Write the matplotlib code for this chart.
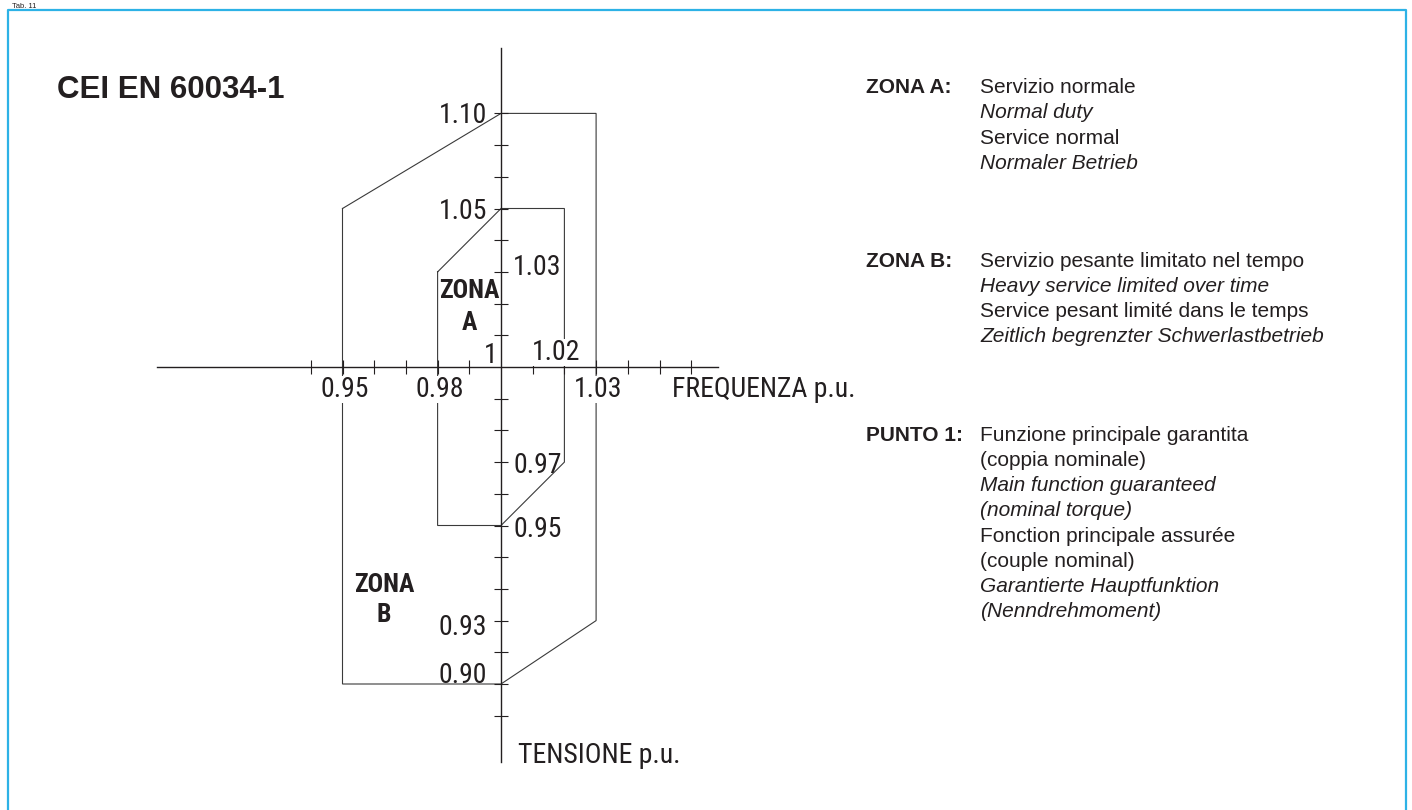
import numpy as np
import matplotlib
matplotlib.use("Agg")
import matplotlib.pyplot as plt
from matplotlib import font_manager as fm

# ---------------- data ----------------
TITLE = "CEI EN 60034-1"
ZONE_A_FREQ = [0.98, 1.00, 1.02, 1.02, 1.00, 0.98, 0.98]
ZONE_A_VOLT = [1.03, 1.05, 1.05, 0.97, 0.95, 0.95, 1.03]
ZONE_B_FREQ = [0.95, 1.00, 1.03, 1.03, 1.00, 0.95, 0.95]
ZONE_B_VOLT = [1.05, 1.10, 1.10, 0.93, 0.90, 0.90, 1.05]

FREQ_TICKS = [0.94, 0.95, 0.96, 0.97, 0.98, 0.99, 1.01, 1.02, 1.03, 1.04, 1.05, 1.06]
FREQ_LABELS_BELOW = ["0.95", "0.98", "1.03"]
FREQ_LABEL_ABOVE = "1.02"
VOLT_LABELS_LEFT = ["1.10", "1.05", "0.93", "0.90"]
VOLT_LABELS_RIGHT = ["1.03", "0.97", "0.95"]
ORIGIN_LABEL = "1"
X_LABEL = "FREQUENZA p.u."
Y_LABEL = "TENSIONE p.u."
ZONE_A_TEXT = ["ZONA", "A"]
ZONE_B_TEXT = ["ZONA", "B"]
PAGE_LABEL = "Tab. 11"

LEGEND_KEYS = ["ZONA A:", "ZONA B:", "PUNTO 1:"]
LEGEND_LINES = [
    [("Servizio normale", "normal"), ("Normal duty", "italic"),
     ("Service normal", "normal"), ("Normaler Betrieb", "italic")],
    [("Servizio pesante limitato nel tempo", "normal"),
     ("Heavy service limited over time", "italic"),
     ("Service pesant limité dans le temps", "normal"),
     ("Zeitlich begrenzter Schwerlastbetrieb", "italic")],
    [("Funzione principale garantita", "normal"), ("(coppia nominale)", "normal"),
     ("Main function guaranteed", "italic"), ("(nominal torque)", "italic"),
     ("Fonction principale assurée", "normal"), ("(couple nominal)", "normal"),
     ("Garantierte Hauptfunktion", "italic"), ("(Nenndrehmoment)", "italic")],
]

# schematic (piece-wise linear) voltage scale: value -> tick step
VOLT_BREAKS = [0.90, 0.93, 0.95, 1.05, 1.10]
VOLT_STEPS = [-10.0, -8.0, -5.0, 5.0, 8.0]

# ---------------- fonts ----------------
names = {f.name for f in fm.fontManager.ttflist}
COND = next((n for n in ["Liberation Sans Narrow", "Roboto Condensed", "Open Sans Condensed"]
             if n in names), "DejaVu Sans")
COND_STRETCH = "condensed" if COND == "DejaVu Sans" else "normal"
SANS = next((n for n in ["Liberation Sans", "Arial", "DejaVu Sans"] if n in names), "DejaVu Sans")
INK = "#231f20"
FRAME = "#2db2e6"

W, H, DPI = 1412, 810, 100


def fwd(v):
    v = np.asarray(v, dtype=float)
    xb, yb = VOLT_BREAKS, VOLT_STEPS
    lo_s = (yb[1] - yb[0]) / (xb[1] - xb[0])
    hi_s = (yb[-1] - yb[-2]) / (xb[-1] - xb[-2])
    out = np.interp(v, xb, yb)
    out = np.where(v < xb[0], yb[0] + (v - xb[0]) * lo_s, out)
    out = np.where(v > xb[-1], yb[-1] + (v - xb[-1]) * hi_s, out)
    return out


def inv(u):
    u = np.asarray(u, dtype=float)
    xb, yb = VOLT_BREAKS, VOLT_STEPS
    lo_s = (xb[1] - xb[0]) / (yb[1] - yb[0])
    hi_s = (xb[-1] - xb[-2]) / (yb[-1] - yb[-2])
    out = np.interp(u, yb, xb)
    out = np.where(u < yb[0], xb[0] + (u - yb[0]) * lo_s, out)
    out = np.where(u > yb[-1], xb[-1] + (u - yb[-1]) * hi_s, out)
    return out


# layout in pixels
ORX, ORY = 501.0, 367.0          # origin pixel
PX_PER_FREQ = 3170.0             # px per 1.0 p.u. frequency
PX_PER_STEP = 31.7               # px per voltage tick step

fig = plt.figure(figsize=(W / DPI, H / DPI), dpi=DPI)
fig.patch.set_facecolor("white")
ax = fig.add_axes([0, 0, 1, 1])
ax.set_facecolor("none")
ax.set_yscale("function", functions=(fwd, inv))
ax.set_xlim(1 - ORX / PX_PER_FREQ, 1 + (W - ORX) / PX_PER_FREQ)
ax.set_ylim(float(inv((ORY - H) / PX_PER_STEP)), float(inv(ORY / PX_PER_STEP)))

# axes cross (spines)
for s in ["top", "right"]:
    ax.spines[s].set_visible(False)
ax.spines["left"].set_position(("data", 1.0))
ax.spines["bottom"].set_position(("data", 1.0))
ax.spines["left"].set_bounds(float(inv((ORY - 762) / PX_PER_STEP)), float(inv((ORY - 48) / PX_PER_STEP)))
ax.spines["bottom"].set_bounds(1 + (157 - ORX) / PX_PER_FREQ, 1 + (718 - ORX) / PX_PER_FREQ)
for s in ["left", "bottom"]:
    ax.spines[s].set_color(INK)
    ax.spines[s].set_linewidth(1.0)
    ax.spines[s].set_zorder(4)

ax.set_xticks(FREQ_TICKS)
ystep_ticks = [u for u in range(-11, 9) if u != 0]
ax.set_yticks(inv(ystep_ticks))
ax.yaxis.set_minor_locator(matplotlib.ticker.NullLocator())
ax.xaxis.set_minor_locator(matplotlib.ticker.NullLocator())
ax.tick_params(direction="inout", length=10, width=0.8, color=INK,
               labelleft=False, labelbottom=False)

# zones
ax.plot(ZONE_B_FREQ, ZONE_B_VOLT, color="#3a3a3a", lw=0.8, zorder=1, solid_joinstyle="miter")
ax.plot(ZONE_A_FREQ, ZONE_A_VOLT, color="#3a3a3a", lw=0.8, zorder=1, solid_joinstyle="miter")

P = 0.72  # points per pixel
tick_kw = dict(fontsize=20, family=COND, stretch=COND_STRETCH, color=INK,
               textcoords="offset points", va="baseline")
white = dict(boxstyle="square,pad=0", facecolor="white", edgecolor="none")

# frequency labels (below axis, interrupt the zone edges)
for lab in FREQ_LABELS_BELOW:
    ax.annotate(lab, xy=(float(lab), 1.0), xytext=(2 * P, -30 * P), ha="center",
                bbox=white, zorder=3, **tick_kw)
ax.annotate(FREQ_LABEL_ABOVE, xy=(float(FREQ_LABEL_ABOVE), 1.0), xytext=(-8.5 * P, 7 * P),
            ha="center", bbox=white, zorder=3, **tick_kw)
ax.annotate(ORIGIN_LABEL, xy=(1.0, 1.0), xytext=(-4 * P, 4 * P), ha="right", zorder=3, **tick_kw)

# voltage labels
left_dy = {"1.10": -10, "1.05": -10, "0.93": -14, "0.90": 1}
for lab in VOLT_LABELS_LEFT:
    ax.annotate(lab, xy=(1.0, float(lab)), xytext=(-14 * P, left_dy[lab] * P), ha="right",
                zorder=3, **tick_kw)
right_dy = {"1.03": -3, "0.97": -11, "0.95": -11}
for lab in VOLT_LABELS_RIGHT:
    ax.annotate(lab, xy=(1.0, float(lab)), xytext=(12 * P, right_dy[lab] * P), ha="left",
                zorder=3, **tick_kw)

# axis names
ax.annotate(X_LABEL, xy=(1.0, 1.0), xytext=((672 - ORX) * P, -30 * P), ha="left", **tick_kw)
ax.annotate(Y_LABEL, xy=(1.0, 1.0), xytext=((518 - ORX) * P, (ORY - 763) * P), ha="left", **tick_kw)


def px(x, y):
    return x / W, 1 - y / H


# zone labels
zkw = dict(fontsize=18.5, family=COND, stretch=COND_STRETCH, weight="bold", color=INK,
           ha="center", va="baseline", transform=fig.transFigure)
for txt, (cx, by) in zip(ZONE_A_TEXT, [(469, 298), (469, 330)]):
    fig.text(*px(cx, by), txt, **zkw)
for txt, (cx, by) in zip(ZONE_B_TEXT, [(384, 592), (384, 622)]):
    fig.text(*px(cx, by), txt, **zkw)

# title
fig.text(*px(57, 98.5), TITLE, fontsize=22.5, family=SANS, weight="bold", color=INK,
         ha="left", va="baseline")

# legend block
starts = [93.3, 266.7, 440.7]
for key, lines, y0 in zip(LEGEND_KEYS, LEGEND_LINES, starts):
    fig.text(*px(866, y0), key, fontsize=15, family=SANS, weight="bold", color=INK,
             ha="left", va="baseline")
    for i, (t, st) in enumerate(lines):
        fig.text(*px(980, y0 + 25.2 * i), t, fontsize=15, family=SANS, style=st, color=INK,
                 ha="left", va="baseline")

# cyan frame (open at the bottom edge of the image)
fx = [8, 8, 1406, 1406]
fy = [H + 5, 10, 10, H + 5]
fig.add_artist(matplotlib.lines.Line2D([a / W for a in fx], [1 - b / H for b in fy],
                                       transform=fig.transFigure, color=FRAME, lw=1.6))
# small page label above the frame
fig.text(*px(12, 7.5), PAGE_LABEL, fontsize=5.5, family=SANS, color=INK, ha="left", va="baseline")

fig.savefig("out.png", dpi=DPI, facecolor="white")
